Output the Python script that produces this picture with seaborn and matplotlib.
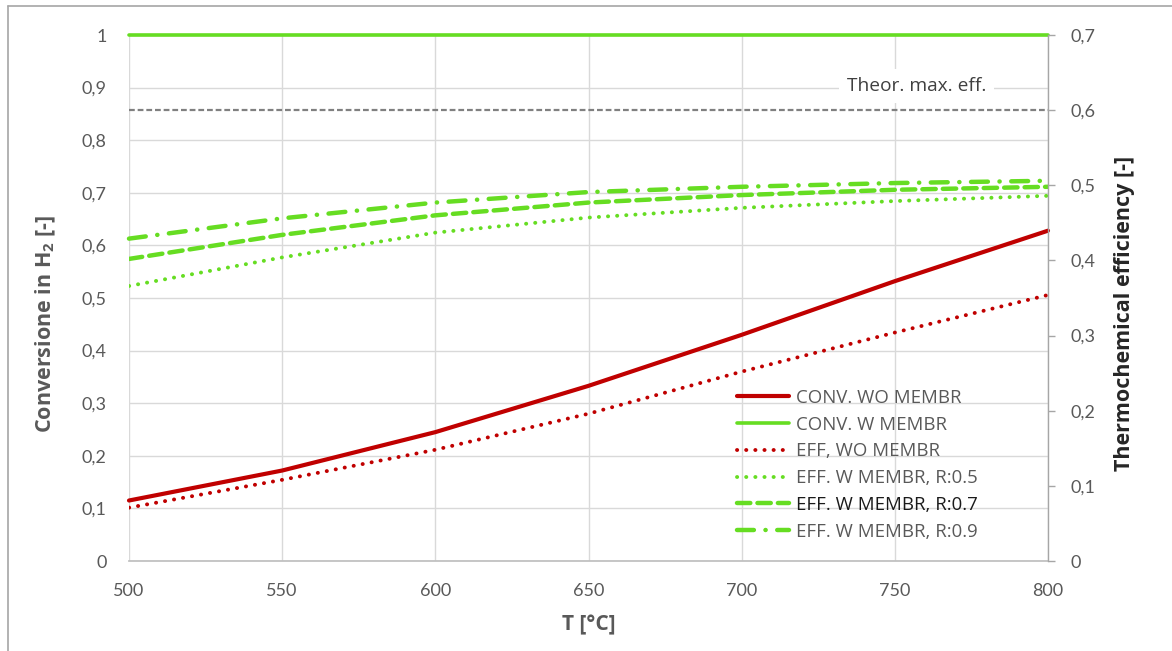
import numpy as np
import pandas as pd
import seaborn as sns
import matplotlib
matplotlib.use("Agg")
import matplotlib.pyplot as plt
from matplotlib.lines import Line2D

# ---------------- data ----------------
T = [500, 550, 600, 650, 700, 750, 800]
conv_wo_membr = [0.115, 0.172, 0.245, 0.333, 0.430, 0.532, 0.628]
conv_w_membr = [1.0, 1.0, 1.0, 1.0, 1.0, 1.0, 1.0]
eff_wo_membr = [0.071, 0.108, 0.148, 0.196, 0.252, 0.304, 0.354]
eff_w_r05 = [0.366, 0.404, 0.437, 0.457, 0.470, 0.479, 0.486]
eff_w_r07 = [0.402, 0.434, 0.460, 0.477, 0.487, 0.494, 0.498]
eff_w_r09 = [0.429, 0.456, 0.477, 0.491, 0.498, 0.503, 0.506]
theor_max_eff = 0.6

series_labels = ["CONV. WO MEMBR", "CONV. W MEMBR", "EFF, WO MEMBR",
                 "EFF. W MEMBR, R:0.5", "EFF. W MEMBR, R:0.7", "EFF. W MEMBR, R:0.9"]
x_ticks = [500, 550, 600, 650, 700, 750, 800]
left_ticks = [0, 0.1, 0.2, 0.3, 0.4, 0.5, 0.6, 0.7, 0.8, 0.9, 1.0]
left_tick_labels = ["0", "0,1", "0,2", "0,3", "0,4", "0,5", "0,6", "0,7", "0,8", "0,9", "1"]
right_ticks = [0, 0.1, 0.2, 0.3, 0.4, 0.5, 0.6, 0.7]
right_tick_labels = ["0", "0,1", "0,2", "0,3", "0,4", "0,5", "0,6", "0,7"]

# ---------------- style ----------------
sns.set_theme(style="white")
plt.rcParams["font.family"] = ["Lato", "DejaVu Sans"]
plt.rcParams["mathtext.fontset"] = "custom"
plt.rcParams["mathtext.rm"] = "Open Sans"
plt.rcParams["mathtext.bf"] = "Open Sans:bold"

RED = "#C00000"
GREEN = "#66DD22"
GRID = "#D9D9D9"
TXT = "#595959"
LBL = ["Open Sans", "DejaVu Sans"]

W, H = 1172, 651
fig = plt.figure(figsize=(W / 100, H / 100), dpi=100)
ax = fig.add_axes([129 / W, 1 - 561 / H, (1048 - 129) / W, (561 - 35) / H])
ax2 = ax.twinx()

df = pd.DataFrame({"T": T, "conv_wo": conv_wo_membr, "conv_w": conv_w_membr,
                   "eff_wo": eff_wo_membr, "r05": eff_w_r05, "r07": eff_w_r07,
                   "r09": eff_w_r09})

# left axis (conversion)
sns.lineplot(data=df, x="T", y="conv_wo", ax=ax, color=RED, linewidth=3.0,
             legend=False, solid_capstyle="round", clip_on=False)
sns.lineplot(data=df, x="T", y="conv_w", ax=ax, color=GREEN, linewidth=2.6,
             legend=False, clip_on=False)

# right axis (efficiency)
sns.lineplot(data=df, x="T", y="eff_wo", ax=ax2, color=RED, linewidth=2.8,
             linestyle=(0, (0.05, 2.3)), dash_capstyle="round", legend=False)
sns.lineplot(data=df, x="T", y="r05", ax=ax2, color=GREEN, linewidth=2.8,
             linestyle=(0, (0.05, 2.3)), dash_capstyle="round", legend=False)
sns.lineplot(data=df, x="T", y="r07", ax=ax2, color=GREEN, linewidth=3.2,
             linestyle=(0, (3.0, 1.6)), dash_capstyle="round", legend=False)
sns.lineplot(data=df, x="T", y="r09", ax=ax2, color=GREEN, linewidth=3.2,
             linestyle=(0, (3.8, 2.6, 0.05, 2.6)), dash_capstyle="round",
             legend=False, clip_on=False)

# theoretical max efficiency line
ax2.axhline(theor_max_eff, color="#808080", linewidth=1.6, linestyle=(0, (2.6, 1.3)),
            clip_on=False)
ax2.text(757, 0.632, "Theor. max. eff.", ha="center", va="center", fontsize=13.8,
         family=LBL, color="#404040", zorder=5,
         bbox=dict(boxstyle="square,pad=0.4", facecolor="white", edgecolor="none"))

# ---------------- axes formatting ----------------
ax.set_xlim(500, 800)
ax.set_ylim(0, 1)
ax2.set_ylim(0, 0.7)
ax.set_xticks(x_ticks)
ax.set_xticklabels([str(t) for t in x_ticks])
ax.set_yticks(left_ticks)
ax.set_yticklabels(left_tick_labels)
ax2.set_yticks(right_ticks)
ax2.set_yticklabels(right_tick_labels)

ax.grid(True, color=GRID, linewidth=1.0)
ax.set_axisbelow(True)
ax2.grid(False)

for a in (ax, ax2):
    for s in a.spines.values():
        s.set_visible(False)
ax.spines["bottom"].set_visible(True)
ax.spines["bottom"].set_color("#BFBFBF")
ax2.spines["right"].set_visible(True)
ax2.spines["right"].set_color("#A6A6A6")
ax2.spines["right"].set_linewidth(1.0)

ax.tick_params(axis="x", length=0, pad=16, labelsize=13, labelcolor=TXT)
ax.tick_params(axis="y", length=0, pad=16, labelsize=13, labelcolor=TXT)
ax2.tick_params(axis="y", right=True, direction="out", length=5, width=1,
                color="#A6A6A6", pad=11, labelsize=13, labelcolor=TXT)

ax.set_xlabel("T [°C]", fontsize=15, fontweight="bold", color=TXT, family=LBL)
ax.xaxis.set_label_coords(0.5, -0.102)
ax.set_ylabel(r"Conversione in H$_{\mathbf{2}}$ [-]", fontsize=15.5, fontweight="bold",
              color=TXT, family=LBL)
ax.yaxis.set_label_coords(-0.077, 0.45)
ax2.set_ylabel("Thermochemical efficiency [-]", fontsize=15.5, fontweight="bold",
               color="#262626", family=LBL)
ax2.yaxis.set_label_coords(1.072, 0.47)

# ---------------- legend ----------------
handles = [ax.lines[0], ax.lines[1], ax2.lines[0], ax2.lines[1], ax2.lines[2], ax2.lines[3]]
leg = ax2.legend(handles, series_labels, loc="upper left",
                 bbox_to_anchor=(737 / W, 1 - 389 / H), bbox_transform=fig.transFigure,
                 frameon=False, prop={"family": LBL, "size": 13.4}, handlelength=2.8,
                 handletextpad=0.38, labelspacing=0.47, borderpad=0, borderaxespad=0)
for i, t in enumerate(leg.get_texts()):
    t.set_color("#1A1A1A" if i == 4 else TXT)

# ---------------- figure border ----------------
fig.add_artist(Line2D([7.5 / W, 7.5 / W], [0, 1 - 6 / H], transform=fig.transFigure,
                      color="#A6A6A6", linewidth=1.2))
fig.add_artist(Line2D([7.5 / W, 1], [1 - 6 / H, 1 - 6 / H], transform=fig.transFigure,
                      color="#A6A6A6", linewidth=1.2))

fig.savefig("out.png", dpi=100)
